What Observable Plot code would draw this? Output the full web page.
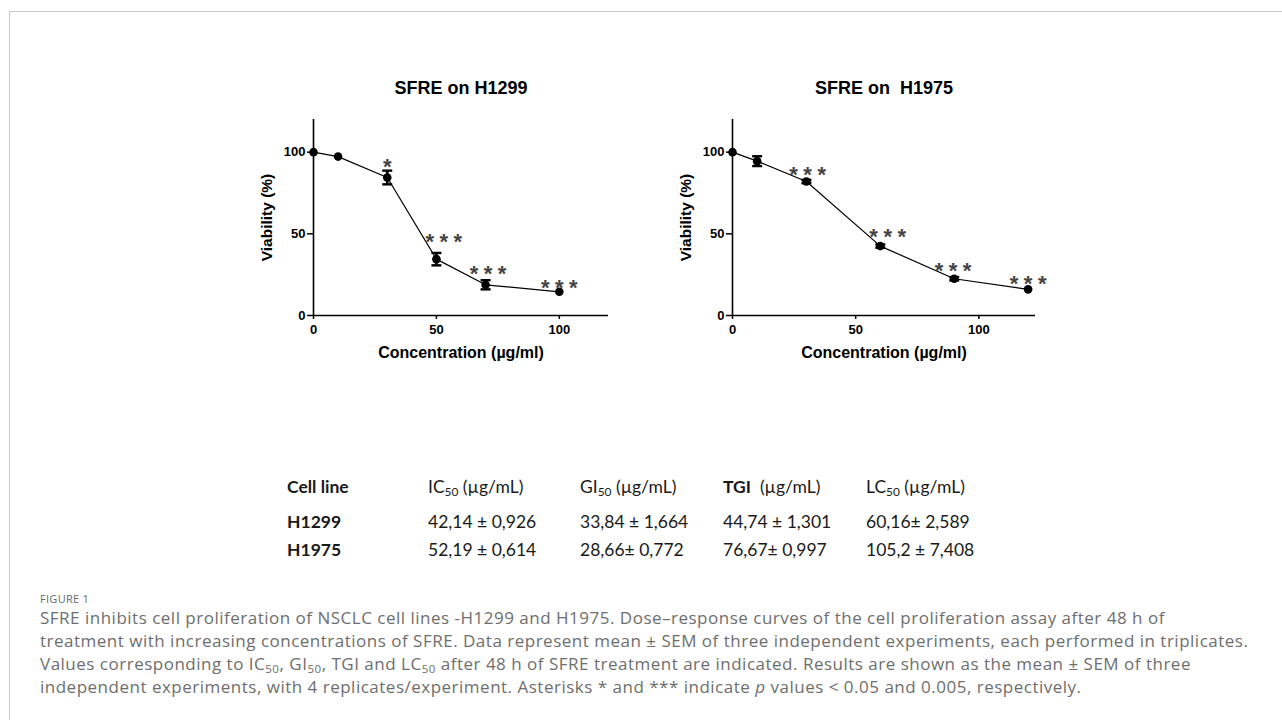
<!DOCTYPE html>
<html><head><meta charset="utf-8">
<script src="https://cdn.jsdelivr.net/npm/d3@7"></script>
<script src="https://cdn.jsdelivr.net/npm/@observablehq/plot@0.6"></script>
<style>
body{margin:0;background:#fff;width:1282px;height:720px;overflow:hidden;position:relative;}
#frame{position:absolute;left:9px;top:11px;width:1400px;height:800px;border-top:1px solid #c8c8c8;border-left:1px solid #c8c8c8;}
.plot{position:absolute;}
.cell{position:absolute;font-family:Lato,"Noto Sans",sans-serif;font-size:17.5px;color:#1a1a1a;white-space:nowrap;transform:translateY(-50%);line-height:1;}
.cell.b{font-weight:bold;}
sub{font-size:0.68em;vertical-align:-0.25em;line-height:0;}
#figlabel{position:absolute;left:40px;top:591px;font-family:"Open Sans",sans-serif;font-size:11px;color:#6a6a6a;letter-spacing:0.3px;}
.cap{position:absolute;left:40px;font-family:"Open Sans",sans-serif;font-size:17px;letter-spacing:0.5px;color:#6e6e6e;white-space:nowrap;transform:translateY(-50%);line-height:1.2;}
</style></head><body>
<div id="frame"></div>
<div id="p1" class="plot" style="left:222px;top:60px"></div>
<div id="p2" class="plot" style="left:641px;top:60px"></div>
<div id="table"></div>
<div id="figlabel">FIGURE 1</div>
<div id="caption"></div>
<script>
// ---- H1299 ----
const h1299Conc = [0, 10, 30, 50, 70, 100];
const h1299Viability = [100, 97.3, 84.5, 34.5, 18.8, 14.5];
const h1299Sem = [0.6, 0.6, 4.2, 3.8, 2.8, 0.8];
const h1299StarConc = [30, 53, 71, 100];
const h1299StarViab = [94.5, 48.5, 29, 20.5];
const h1299StarText = ["*", "***", "***", "***"];
// ---- H1975 ----
const h1975Conc = [0, 10, 30, 60, 90, 120];
const h1975Viability = [100, 94.5, 82, 42.5, 22.5, 16];
const h1975Sem = [0.6, 3, 1, 1, 1, 0.8];
const h1975StarConc = [30.5, 63, 89.5, 120];
const h1975StarViab = [90, 52, 31, 23];
const h1975StarText = ["***", "***", "***", "***"];
// ---- ticks ----
const xTicks = [0, 50, 100];
const yTicks = [0, 50, 100];
// ---- table ----
const tableHeaders = ["Cell line", "IC<sub>50</sub> (µg/mL)", "GI<sub>50</sub> (µg/mL)", "<b>TGI</b>&nbsp; (µg/mL)", "LC<sub>50</sub> (µg/mL)"];
const cellLines = ["H1299", "H1975"];
const ic50 = ["42,14 ± 0,926", "52,19 ± 0,614"];
const gi50 = ["33,84 ± 1,664", "28,66± 0,772"];
const tgi = ["44,74 ± 1,301", "76,67± 0,997"];
const lc50 = ["60,16± 2,589", "105,2 ± 7,408"];
// ---- caption ----
const captionLines = [
  "SFRE inhibits cell proliferation of NSCLC cell lines -H1299 and H1975. Dose–response curves of the cell proliferation assay after 48 h of",
  "treatment with increasing concentrations of SFRE. Data represent mean ± SEM of three independent experiments, each performed in triplicates.",
  "Values corresponding to IC<sub>50</sub>, GI<sub>50</sub>, TGI and LC<sub>50</sub> after 48 h of SFRE treatment are indicated. Results are shown as the mean ± SEM of three",
  "independent experiments, with 4 replicates/experiment. Asterisks * and *** indicate <i>p</i> values &lt; 0.05 and 0.005, respectively."
];

const capSymbol = {draw(ctx, size){ const r = Math.sqrt(size/Math.PI); ctx.moveTo(-r,0); ctx.lineTo(r,0); }};

function chart({title, conc, viab, sem, starX, starY, starText, xMax, width}) {
  const data = conc.map((c,i)=>({c, v: viab[i], s: sem[i]}));
  const stars = starX.map((c,i)=>({c, v: starY[i], t: starText[i].split("").join("\u2005")}));
  const bars = data.filter(d=>d.s>=1);
  return Plot.plot({
    width, height: 315,
    marginLeft: 91, marginRight: width-91-(xMax===120?295:303), marginTop: 59, marginBottom: 60,
    style: {fontFamily: "'Liberation Sans', Arial, sans-serif", color: "black", background: "white"},
    x: {domain: [0, xMax]},
    y: {domain: [0, 120]},
    marks: [
      Plot.axisY({ticks: yTicks, tickSize: 6, tickPadding: 2, fontSize: 13, fontWeight: "bold", label: null, strokeWidth: 1.5}),
      Plot.axisX({ticks: xTicks, tickSize: 4, tickPadding: 5, fontSize: 13, fontWeight: "bold", label: null, strokeWidth: 1.5}),
      Plot.ruleY([0], {strokeWidth: 1.6}),
      Plot.ruleX([0], {strokeWidth: 1.6}),
      Plot.line(data, {x: "c", y: "v", stroke: "black", strokeWidth: 1.2}),
      Plot.ruleX(bars, {x: "c", y1: d=>d.v-d.s, y2: d=>d.v+d.s, strokeWidth: 2.6}),
      Plot.dot(bars, {x: "c", y: d=>d.v+d.s, symbol: capSymbol, r: 5, stroke: "black", strokeWidth: 2.4}),
      Plot.dot(bars, {x: "c", y: d=>d.v-d.s, symbol: capSymbol, r: 5, stroke: "black", strokeWidth: 2.4}),
      Plot.dot(data, {x: "c", y: "v", r: 4.3, fill: "black"}),
      Plot.text(stars, {x: "c", y: "v", text: "t", fontSize: 22, fontWeight: "bold", fill: "#444", dy: 6}),
      Plot.text([title], {frameAnchor: "top", lineAnchor: "middle", textAnchor: "middle", dy: -31, fontSize: 18, fontWeight: "bold"}),
      Plot.text(["Viability (%)"], {frameAnchor: "left", textAnchor: "middle", lineAnchor: "middle", dx: -46, rotate: -90, fontSize: 15.5, fontWeight: "bold"}),
      Plot.text(["Concentration (µg/ml)"], {frameAnchor: "bottom", textAnchor: "middle", lineAnchor: "middle", dy: 37, fontSize: 16, fontWeight: "bold"})
    ]
  });
}

document.getElementById("p1").append(chart({title: "SFRE on H1299", conc: h1299Conc, viab: h1299Viability, sem: h1299Sem,
  starX: h1299StarConc, starY: h1299StarViab, starText: h1299StarText, xMax: 120, width: 416}));
document.getElementById("p2").append(chart({title: "SFRE on  H1975", conc: h1975Conc, viab: h1975Viability, sem: h1975Sem,
  starX: h1975StarConc, starY: h1975StarViab, starText: h1975StarText, xMax: 123, width: 424}));

// table
const colX = [287, 428, 580, 723, 866];
const rowY = [487, 522, 550];
const table = document.getElementById("table");
function cell(html, x, y, bold){ const d = document.createElement("div"); d.className = "cell" + (bold?" b":""); d.style.left = x+"px"; d.style.top = y+"px"; d.innerHTML = html; table.append(d); }
tableHeaders.forEach((h,i)=>cell(h, colX[i], rowY[0], i===0));
cellLines.forEach((name,r)=>{
  cell(name, colX[0], rowY[r+1], true);
  [ic50, gi50, tgi, lc50].forEach((col,i)=>cell(col[r], colX[i+1], rowY[r+1], false));
});
// caption
const capY = [618, 641, 664, 687];
const cap = document.getElementById("caption");
captionLines.forEach((t,i)=>{ const d = document.createElement("div"); d.className = "cap"; d.style.top = capY[i]+"px"; d.innerHTML = t; cap.append(d); });
</script>
</body></html>
